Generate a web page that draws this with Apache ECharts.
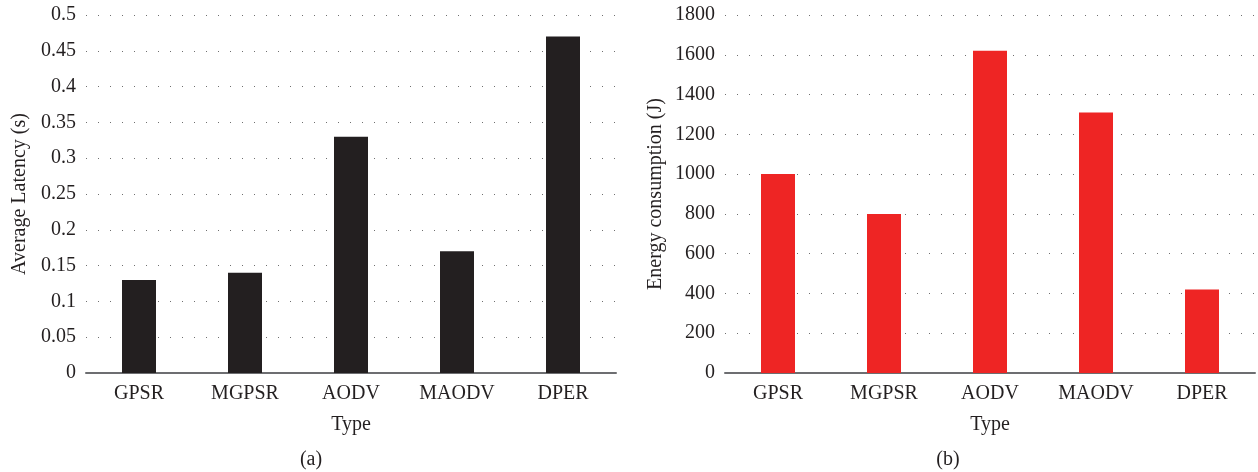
<!DOCTYPE html>
<html>
<head>
<meta charset="utf-8">
<style>
  html, body { margin: 0; padding: 0; background: #ffffff; }
  #chart { width: 1258px; height: 472px; }
</style>
<script src="https://cdn.jsdelivr.net/npm/echarts@6/dist/echarts.min.js"></script>
</head>
<body>
<div id="chart"></div>
<script>
// Routing protocols compared in both panels
const categories = ['GPSR', 'MGPSR', 'AODV', 'MAODV', 'DPER'];
// Panel (a): average latency in seconds
const latency = [0.13, 0.14, 0.33, 0.17, 0.47];
// Panel (b): energy consumption in joules
const energy = [1000, 800, 1620, 1310, 420];

const FONT = '"Liberation Serif", "DejaVu Serif", serif';
const TEXT = '#231f20';

const chart = echarts.init(document.getElementById('chart'), null, { renderer: 'canvas' });

function xAxisFor(gridIndex) {
  return {
    type: 'category',
    gridIndex: gridIndex,
    data: categories,
    name: 'Type',
    nameLocation: 'middle',
    nameGap: 42,
    nameTextStyle: { fontFamily: FONT, fontSize: 20, color: TEXT },
    axisLine: { show: true, lineStyle: { color: '#6d6e71', width: 2 } },
    axisTick: { show: false },
    axisLabel: { fontFamily: FONT, fontSize: 20, color: TEXT, margin: 11 },
    splitLine: { show: false }
  };
}

function yAxisFor(gridIndex, name, max, interval, nameGap) {
  return {
    type: 'value',
    gridIndex: gridIndex,
    min: 0,
    max: max,
    interval: interval,
    name: name,
    nameLocation: 'middle',
    nameRotate: 90,
    nameGap: nameGap,
    nameTextStyle: { fontFamily: FONT, fontSize: 20, color: TEXT },
    axisLine: { show: false },
    axisTick: { show: false },
    axisLabel: {
      fontFamily: FONT, fontSize: 20, color: TEXT, margin: 10,
      formatter: function (v) { return String(v); }
    },
    splitLine: { show: true, lineStyle: { color: '#6f6f6f', width: 1, type: [1, 11] } }
  };
}

chart.setOption({
  animation: false,
  backgroundColor: '#ffffff',
  grid: [
    { left: 86, top: 15, width: 530, height: 358 },
    { left: 725, top: 15, width: 530, height: 358 }
  ],
  xAxis: [xAxisFor(0), xAxisFor(1)],
  yAxis: [
    yAxisFor(0, 'Average Latency (s)', 0.5, 0.05, 56),
    yAxisFor(1, 'Energy consumption (J)', 1800, 200, 59)
  ],
  series: [
    {
      type: 'bar',
      xAxisIndex: 0,
      yAxisIndex: 0,
      data: latency,
      barWidth: 34,
      itemStyle: { color: '#231f20' }
    },
    {
      type: 'bar',
      xAxisIndex: 1,
      yAxisIndex: 1,
      data: energy,
      barWidth: 34,
      itemStyle: { color: '#ee2524' }
    }
  ],
  graphic: [
    {
      type: 'text', x: 311, y: 460,
      style: { text: '(a)', fontFamily: FONT, fontSize: 20, fill: TEXT, align: 'center', verticalAlign: 'middle' }
    },
    {
      type: 'text', x: 948, y: 460,
      style: { text: '(b)', fontFamily: FONT, fontSize: 20, fill: TEXT, align: 'center', verticalAlign: 'middle' }
    }
  ]
});
</script>
</body>
</html>
